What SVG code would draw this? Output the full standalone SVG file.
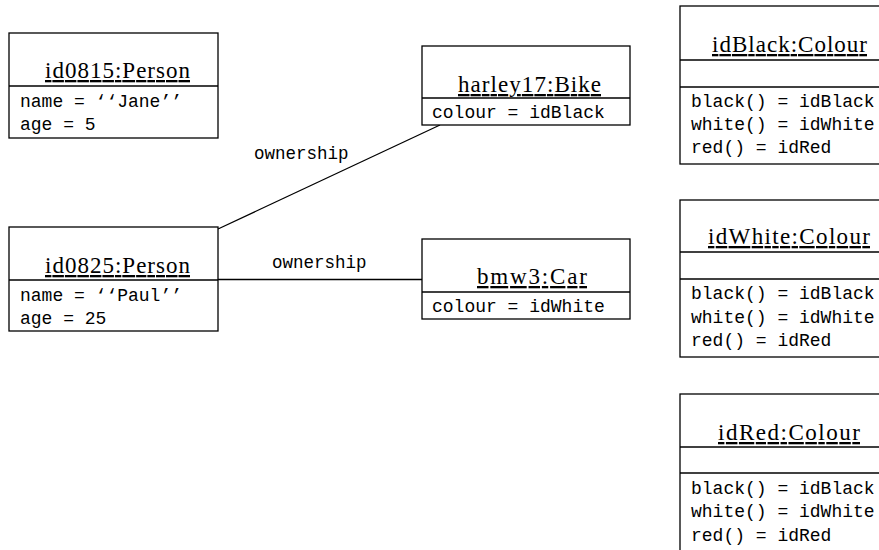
<svg xmlns="http://www.w3.org/2000/svg" width="879" height="550" viewBox="0 0 879 550">
<style>
.box{fill:#fff;stroke:#000;stroke-width:1.3}
.div{stroke:#000;stroke-width:1.3}
.title{font-family:"Liberation Serif","Times New Roman",serif;font-size:23px;text-anchor:middle;text-decoration:underline;fill:#000}
.attr{font-family:"Liberation Mono","Courier New",monospace;font-size:18px;fill:#000}
.lbl{font-family:"Liberation Mono","Courier New",monospace;font-size:17.5px;fill:#000}
.conn{stroke:#000;stroke-width:1.3;fill:none}
</style>
<rect width="879" height="550" fill="#fff"/>
<g id="connectors">
<line class="conn" x1="218" y1="229" x2="440" y2="125"/>
<text class="lbl" x="254" y="159">ownership</text>
<line class="conn" x1="218" y1="279.5" x2="422" y2="279.5"/>
<text class="lbl" x="272" y="268">ownership</text>
</g>
<g id="id0815">
<rect class="box" x="9" y="33" width="209" height="105"/>
<line class="div" x1="9" y1="86" x2="218" y2="86"/>
<text class="title" x="117.5" y="78" textLength="145">id0815:Person</text>
<text class="attr" x="20" y="107">name = ‘‘Jane’’</text>
<text class="attr" x="20" y="130">age = 5</text>
</g>
<g id="id0825">
<rect class="box" x="9" y="227" width="209" height="104"/>
<line class="div" x1="9" y1="280" x2="218" y2="280"/>
<text class="title" x="117.5" y="273" textLength="145">id0825:Person</text>
<text class="attr" x="20" y="300.5">name = ‘‘Paul’’</text>
<text class="attr" x="20" y="323.5">age = 25</text>
</g>
<g id="harley17">
<rect class="box" x="422" y="46" width="208" height="79"/>
<line class="div" x1="422" y1="98" x2="630" y2="98"/>
<text class="title" x="529.5" y="92" textLength="143">harley17:Bike</text>
<text class="attr" x="432" y="117.5">colour = idBlack</text>
</g>
<g id="bmw3">
<rect class="box" x="422" y="239" width="208" height="80"/>
<line class="div" x1="422" y1="292" x2="630" y2="292"/>
<text class="title" x="532" y="284" textLength="110">bmw3:Car</text>
<text class="attr" x="432" y="311.5">colour = idWhite</text>
</g>
<g id="idBlack">
<rect class="box" x="680" y="6" width="215" height="158"/>
<line class="div" x1="680" y1="60" x2="895" y2="60"/>
<line class="div" x1="680" y1="87" x2="895" y2="87"/>
<text class="title" x="789.5" y="52" textLength="155">idBlack:Colour</text>
<text class="attr" x="691" y="106.5">black() = idBlack</text>
<text class="attr" x="691" y="129.5">white() = idWhite</text>
<text class="attr" x="691" y="152.5">red() = idRed</text>
</g>
<g id="idWhite">
<rect class="box" x="680" y="200" width="215" height="157"/>
<line class="div" x1="680" y1="252" x2="895" y2="252"/>
<line class="div" x1="680" y1="279" x2="895" y2="279"/>
<text class="title" x="789" y="244" textLength="162">idWhite:Colour</text>
<text class="attr" x="691" y="299">black() = idBlack</text>
<text class="attr" x="691" y="322.5">white() = idWhite</text>
<text class="attr" x="691" y="346">red() = idRed</text>
</g>
<g id="idRed">
<rect class="box" x="680" y="394" width="215" height="170"/>
<line class="div" x1="680" y1="447" x2="895" y2="447"/>
<line class="div" x1="680" y1="473" x2="895" y2="473"/>
<text class="title" x="789" y="440" textLength="142">idRed:Colour</text>
<text class="attr" x="691" y="493.5">black() = idBlack</text>
<text class="attr" x="691" y="517">white() = idWhite</text>
<text class="attr" x="691" y="541">red() = idRed</text>
</g>
</svg>
